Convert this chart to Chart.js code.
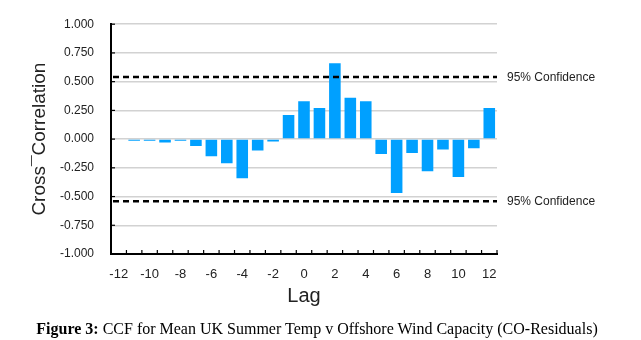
<!DOCTYPE html>
<html>
<head>
<meta charset="utf-8">
<script src="https://cdn.jsdelivr.net/npm/chart.js@4"></script>
<style>
    html, body { margin: 0; padding: 0; background: #fff; }
    #wrap { position: relative; width: 641px; height: 340px; }
    #caption {
        position: absolute; left: 0; width: 634px; top: 320px;
        text-align: center; font-family: "Liberation Serif", "Times New Roman", serif;
        font-size: 16px; color: #000;
    }
</style>
</head>
<body>
<div id="wrap">
    <canvas id="ccfChart" width="641" height="340"></canvas>
    <div id="caption"><b>Figure 3:</b> CCF for Mean UK Summer Temp v Offshore Wind Capacity (CO-Residuals)</div>
</div>
<script>
const lags = [-12, -11, -10, -9, -8, -7, -6, -5, -4, -3, -2, -1, 0, 1, 2, 3, 4, 5, 6, 7, 8, 9, 10, 11, 12];
const ccfValues = [null, -0.015, -0.015, -0.03, -0.015, -0.06, -0.15, -0.21, -0.34, -0.10, -0.02, 0.21, 0.33,
    0.27, 0.66, 0.36, 0.33, -0.13, -0.47, -0.12, -0.28, -0.09, -0.33, -0.08, 0.27];
const confidenceLevels = [0.54, -0.54];
const confidenceLabel = "95% Confidence";
const yTickStep = 0.25;

// dashed confidence lines, their labels and the small inward axis ticks
const confidencePlugin = {
    id: 'confidence',
    afterDatasetsDraw(chart) {
        const { ctx, chartArea, scales } = chart;
        ctx.save();
        ctx.strokeStyle = '#000';
        ctx.lineWidth = 2.5;
        ctx.setLineDash([6, 4]);
        confidenceLevels.forEach(level => {
            const y = scales.y.getPixelForValue(level);
            ctx.beginPath();
            ctx.moveTo(chartArea.left + 2, y);
            ctx.lineTo(chartArea.right, y);
            ctx.stroke();
        });
        ctx.setLineDash([]);
        ctx.fillStyle = '#222';
        ctx.font = '12px "Liberation Sans", Arial, sans-serif';
        ctx.textBaseline = 'middle';
        confidenceLevels.forEach(level => {
            ctx.fillText(confidenceLabel, chartArea.right + 10, scales.y.getPixelForValue(level) + 1);
        });

        ctx.strokeStyle = '#000';
        ctx.lineWidth = 1.2;
        for (let i = 0; i <= lags.length; i++) {
            const x = scales.x.getPixelForValue(i - 0.5);
            ctx.beginPath();
            ctx.moveTo(x, chartArea.bottom);
            ctx.lineTo(x, chartArea.bottom - 4);
            ctx.stroke();
        }
        scales.y.ticks.forEach(t => {
            const y = scales.y.getPixelForValue(t.value);
            ctx.beginPath();
            ctx.moveTo(chartArea.left, y);
            ctx.lineTo(chartArea.left + 4, y);
            ctx.stroke();
        });
        ctx.restore();
    }
};

new Chart(document.getElementById('ccfChart'), {
    type: 'bar',
    data: {
        labels: lags,
        datasets: [{
            label: 'CCF',
            data: ccfValues,
            backgroundColor: 'rgb(0, 160, 255)',
            borderWidth: 0,
            categoryPercentage: 1,
            barPercentage: 0.75
        }]
    },
    options: {
        responsive: false,
        animation: false,
        layout: { padding: { left: 28, top: 13, right: 144, bottom: 30 } },
        plugins: {
            legend: { display: false },
            tooltip: { enabled: false }
        },
        scales: {
            x: {
                afterFit: scale => { scale.height = 56; },
                grid: { display: false },
                border: { color: '#000', width: 2 },
                ticks: {
                    autoSkip: false,
                    maxRotation: 0,
                    padding: 5,
                    color: '#222',
                    font: { family: '"Liberation Sans", Arial, sans-serif', size: 13 },
                    callback: (value, index) => lags[index] % 2 === 0 ? String(lags[index]) : ''
                },
                title: {
                    display: true,
                    text: 'Lag',
                    color: '#222',
                    padding: { top: 0, bottom: 2 },
                    font: { family: '"Liberation Sans", Arial, sans-serif', size: 20 }
                }
            },
            y: {
                min: -1,
                max: 1,
                afterFit: scale => { scale.width = 83; },
                grid: { color: 'rgb(210, 210, 210)', lineWidth: 1.5, drawTicks: false },
                border: { color: '#000', width: 2 },
                ticks: {
                    stepSize: yTickStep,
                    padding: 17,
                    color: '#222',
                    font: { family: '"Liberation Sans", Arial, sans-serif', size: 12 },
                    callback: value => value.toFixed(3)
                },
                title: {
                    display: true,
                    text: 'Cross¯Correlation',
                    color: '#222',
                    padding: 0,
                    font: { family: '"Liberation Sans", Arial, sans-serif', size: 19 }
                }
            }
        }
    },
    plugins: [confidencePlugin]
});
</script>
</body>
</html>
